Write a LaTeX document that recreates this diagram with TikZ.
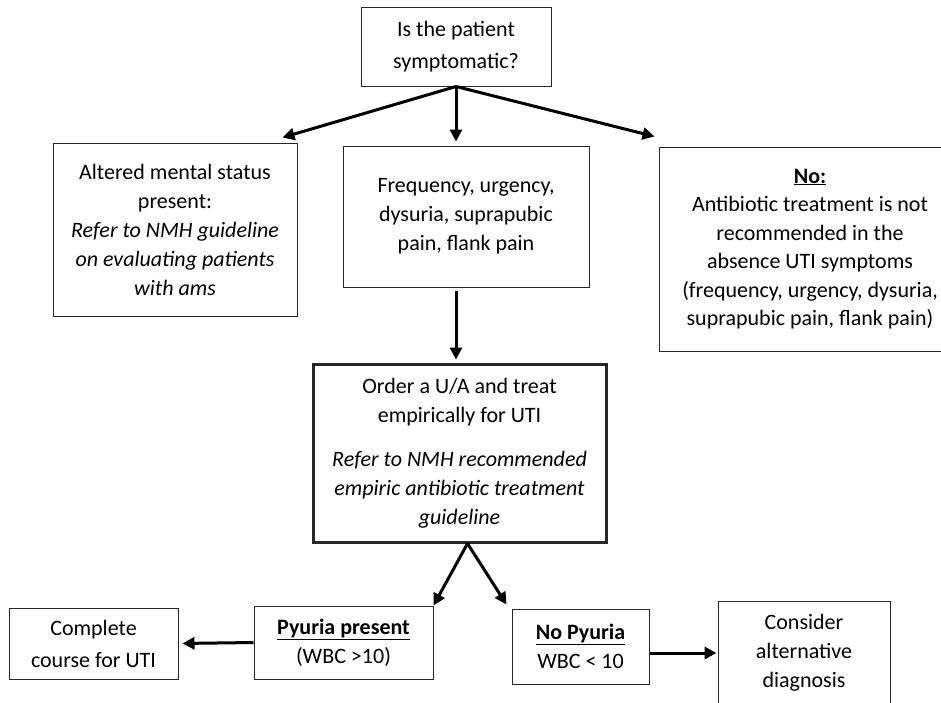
\documentclass[tikz,border=0pt]{standalone}
\usepackage{fontspec}
\setmainfont{Carlito}
\usepackage{tikz}
\usetikzlibrary{arrows.meta,calc}

\begin{document}
\begin{tikzpicture}[x=1pt,y=-1pt,
 n/.style={draw=black!85,line width=1pt,align=center,inner sep=0pt,font=\fontsize{22}{29}\selectfont},
 a/.style={-{Triangle[length=12pt,width=12pt]},line width=3pt}]
\useasboundingbox (0,0) rectangle (941,702);
\node[n,minimum width=190pt,minimum height=79pt] (q) at (456,46.5) {Is the patient\\[3pt]symptomatic?};
\node[n,minimum width=244pt,minimum height=173pt] (ams) at (175,229.5) {Altered mental status\\present:\\\textit{Refer to NMH guideline}\\\textit{on evaluating patients}\\\textit{with ams}};
\node[n,minimum width=246pt,minimum height=141pt] (sym) at (466,216.5) {Frequency, urgency,\\dysuria, suprapubic\\pain, flank pain};
\node[n,minimum width=302pt,minimum height=204pt,font=\fontsize{22}{28.5}\selectfont] (no) at (810,249) {\underline{\textbf{No:}}\\Antibiotic treatment is not\\recommended in the\\absence UTI symptoms\\(frequency, urgency, dysuria,\\suprapubic pain, flank pain)};
\node[n,line width=3pt,minimum width=293pt,minimum height=178pt] (ua) at (459.5,453) {Order a U/A and treat\\empirically for UTI\\[15pt]\textit{Refer to NMH recommended}\\\textit{empiric antibiotic treatment}\\\textit{guideline}};
\node[n,minimum width=179pt,minimum height=73pt] (pp) at (343.5,642.5) {\underline{\textbf{Pyuria present}}\\(WBC >10)};
\node[n,minimum width=169pt,minimum height=71pt] (comp) at (93.5,643.5) {Complete\\[3pt]course for UTI};
\node[n,minimum width=137pt,minimum height=75pt] (np) at (580.5,646.5) {\underline{\textbf{No Pyuria}}\\WBC < 10};
\node[n,minimum width=172pt,minimum height=104pt] (alt) at (804,653) {Consider\\alternative\\diagnosis};
% arrows
\draw[a] (q.south) -- ($(ams.north east)+(-15,-5)$);
\draw[a,shorten >=4pt] (q.south) -- (q.south |- sym.north);
\draw[a] (q.south) -- ($(no.north west)+(-4,-10)$);
\draw[a,shorten <=3pt,shorten >=3pt] (q.south |- sym.south) -- (q.south |- ua.north);
\draw[a] ($(ua.south)+(8,0)$) -- (pp.north east);
\draw[a] ($(ua.south)+(8,0)$) -- ($(np.north west)+(-5,-4)$);
\draw[a,shorten >=4pt] (pp.west) -- (comp.east);
\draw[a,shorten >=1pt] (np.east |- alt.west) -- (alt.west);
\end{tikzpicture}
\end{document}
